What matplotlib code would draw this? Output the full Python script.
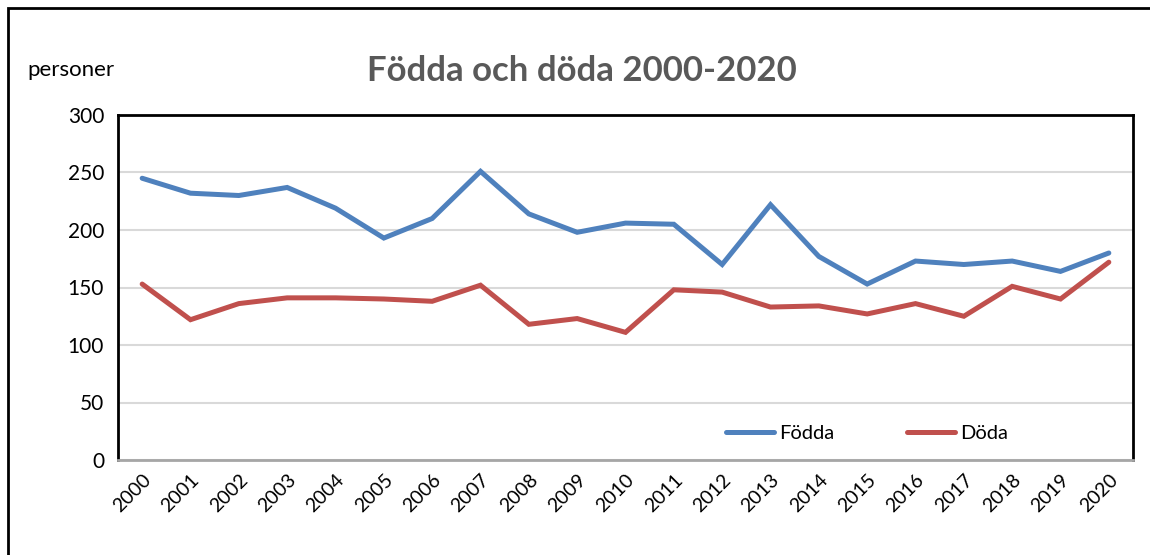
import matplotlib
matplotlib.use("Agg")
import matplotlib.pyplot as plt
from matplotlib.patches import Rectangle

years = [str(y) for y in range(2000, 2021)]
fodda = [245, 232, 230, 237, 219, 193, 210, 251, 214, 198, 206, 205, 170, 222, 177, 153, 173, 170, 173, 164, 180]
doda = [153, 122, 136, 141, 141, 140, 138, 152, 118, 123, 111, 148, 146, 133, 134, 127, 136, 125, 151, 140, 172]
yticks = [0, 50, 100, 150, 200, 250, 300]

plt.rcParams['font.family'] = ['Lato', 'DejaVu Sans']

W, H = 1150, 555
fig = plt.figure(figsize=(W / 100, H / 100), dpi=100)
ax = fig.add_axes([118 / W, 1 - 460 / H, (1133 - 118) / W, (460 - 115) / H])

x = list(range(len(years)))
ax.plot(x, fodda, color='#4F81BD', lw=3.6, solid_capstyle='round', solid_joinstyle='miter', label='Födda', zorder=3)
ax.plot(x, doda, color='#C0504D', lw=3.6, solid_capstyle='round', solid_joinstyle='miter', label='Döda', zorder=3)

ax.set_xlim(-0.5, len(years) - 0.5)
ax.set_ylim(0, 300)
ax.set_yticks(yticks)
ax.set_yticklabels([str(v) for v in yticks], fontsize=15)
ax.set_xticks(x)
ax.set_xticklabels(years, rotation=45, ha='right', va='top', rotation_mode='anchor', fontsize=14)
ax.tick_params(axis='y', length=0, pad=10)
ax.tick_params(axis='x', length=0, pad=8)
ax.yaxis.grid(True, color='#D9D9D9', lw=1.5, zorder=0)
ax.set_axisbelow(True)

for s in ['left', 'top', 'right']:
    ax.spines[s].set_color('black')
    ax.spines[s].set_linewidth(2)
ax.spines['bottom'].set_color('#A6A6A6')
ax.spines['bottom'].set_linewidth(2)

leg = ax.legend(loc='lower right', bbox_to_anchor=(0.8946, 0.0), ncol=2, frameon=False,
                fontsize=14.5, handlelength=2.4, handletextpad=0.25, columnspacing=3.6)

fig.text(582 / W, 1 - 71 / H, 'Födda och döda 2000-2020', ha='center', va='center',
         fontsize=25, fontweight='bold', color='#595959')
fig.text(27 / W, 1 - 70 / H, 'personer', ha='left', va='center', fontsize=16, color='black')

fig.patches.append(Rectangle((8 / W, -0.1), 1.2, 1 - 8 / H + 0.1, transform=fig.transFigure,
                             fill=False, edgecolor='black', lw=2))

fig.savefig('out.png', dpi=100)
